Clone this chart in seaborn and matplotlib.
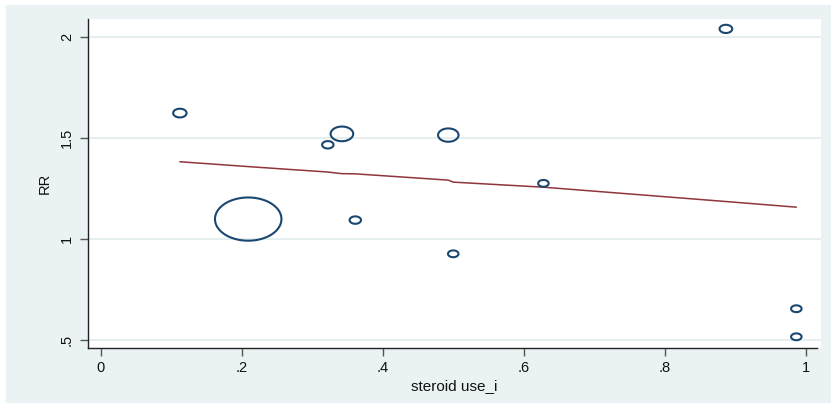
import numpy as np
import pandas as pd
import matplotlib
matplotlib.use("Agg")
import matplotlib.pyplot as plt
from matplotlib.path import Path
from matplotlib.patches import Rectangle
import seaborn as sns

# ---- data ----
steroid_use = [0.112, 0.209, 0.322, 0.342, 0.361, 0.493, 0.500, 0.628, 0.887, 0.987, 0.987]
rr = [1.624, 1.099, 1.467, 1.521, 1.094, 1.515, 0.927, 1.276, 2.041, 0.655, 0.516]
weight = [18, 442, 13, 51, 13, 42, 11, 11, 16, 11, 11]
fit_x = [0.112, 0.209, 0.322, 0.342, 0.361, 0.493, 0.500, 0.628, 0.887, 0.987]
fit_rr = [1.383, 1.359, 1.332, 1.324, 1.323, 1.292, 1.282, 1.257, 1.186, 1.158]
x_ticks = [0, 0.2, 0.4, 0.6, 0.8, 1.0]
x_labels = ["0", ".2", ".4", ".6", ".8", "1"]
y_ticks = [0.5, 1.0, 1.5, 2.0]
y_labels = [".5", "1", "1.5", "2"]

df = pd.DataFrame({"steroid use_i": steroid_use, "RR": rr, "w": weight})
fit = pd.DataFrame({"x": fit_x, "y": fit_rr})

sns.set_theme(style="white")
plt.rcParams["font.family"] = ["Liberation Sans", "DejaVu Sans"]

BG = "#eaf2f3"
NAVY = "#1a476f"
MAROON = "#90353b"

W, H = 831, 403
fig = plt.figure(figsize=(W / 100, H / 100), dpi=100, facecolor="white")
fig.patches.append(Rectangle((6 / W, 0), 1, 1 - 5 / H, transform=fig.transFigure,
                             facecolor=BG, edgecolor="none", zorder=-10))
ax = fig.add_axes([88 / W, (H - 348.3) / H, (821 - 88) / W, (348.3 - 19) / H])
ax.set_facecolor("white")

# elliptical ring marker (Stata bubbles look stretched)
t = np.linspace(0, 2 * np.pi, 80)
verts = np.column_stack([np.cos(t), 0.65 * np.sin(t)])
ell = Path(verts, closed=True)

k = (0.72 ** 2) * 10.0
sns.scatterplot(data=df, x="steroid use_i", y="RR", size="w",
                sizes=(0, max(weight) * k), size_norm=(0, max(weight)),
                marker=ell, facecolor="none", edgecolor=NAVY, linewidth=1.5,
                legend=False, ax=ax, zorder=3)
sns.lineplot(data=fit, x="x", y="y", color=MAROON, linewidth=1.1, ax=ax,
             sort=True, zorder=2)

ax.set_xlim(-0.0184, 1.022)
ax.set_ylim(0.459, 2.09)
ax.set_xticks(x_ticks)
ax.set_xticklabels(x_labels)
ax.set_yticks(y_ticks)
ax.set_yticklabels(y_labels, rotation=90, va="center")
ax.grid(axis="y", color="#e3eeef", linewidth=1.3)
ax.grid(axis="x", visible=False)
ax.set_axisbelow(True)

for s in ["top", "right"]:
    ax.spines[s].set_visible(False)
for s in ["left", "bottom"]:
    ax.spines[s].set_color("#222222")
    ax.spines[s].set_linewidth(1.0)
ax.spines["bottom"].set_bounds(-0.0184, 1.017)

ax.tick_params(axis="both", which="major", direction="out", length=6, width=1.0,
               color="#555555", labelsize=10.5, labelcolor="#111111",
               bottom=True, left=True)
ax.tick_params(axis="x", pad=3)
ax.tick_params(axis="y", pad=4)
ax.set_xlabel("steroid use_i", fontsize=11, color="#111111", labelpad=3)
ax.set_ylabel("RR", fontsize=10.5, color="#111111", labelpad=6)

fig.savefig("out.png", dpi=100, facecolor=fig.get_facecolor())
